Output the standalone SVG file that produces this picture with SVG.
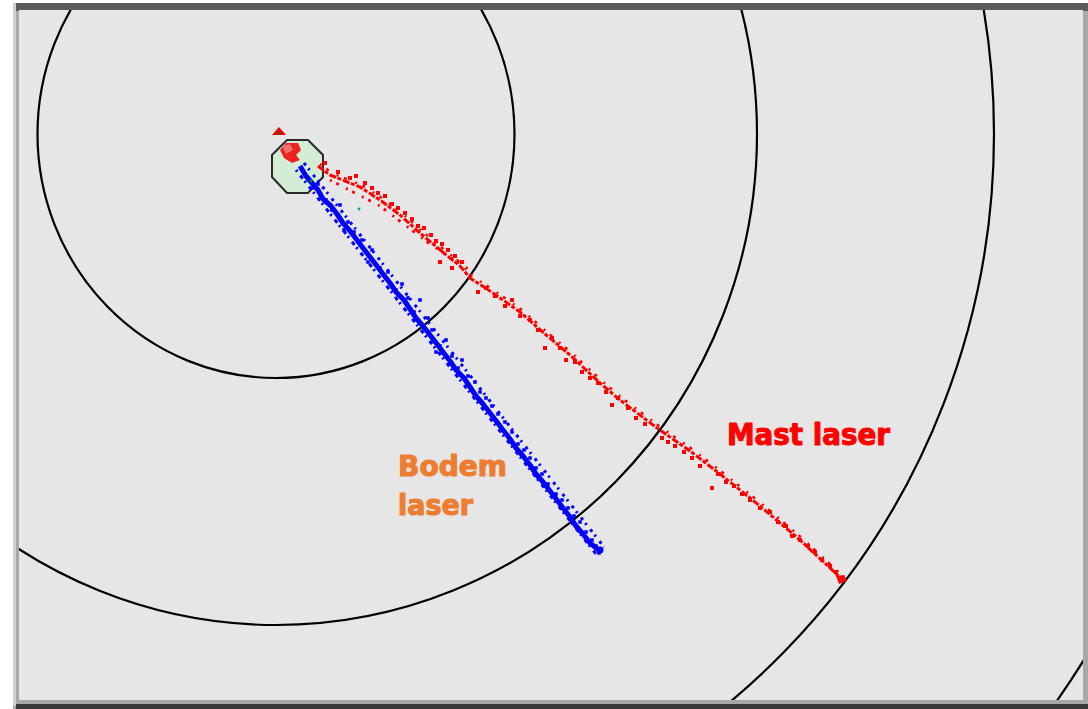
<svg xmlns="http://www.w3.org/2000/svg" width="1088" height="709" viewBox="0 0 1088 709">
<style>
.ring{fill:none;stroke:#000;stroke-width:2.2}
.lbl{font-family:"DejaVu Sans Condensed","DejaVu Sans",sans-serif;font-weight:bold;font-stretch:condensed;stroke-width:1;stroke-linejoin:round}
.bdot{fill:none;stroke:#0000ff;stroke-linecap:square;stroke-width:3.6}
.rdot{fill:none;stroke:#ff0000;stroke-linecap:square;stroke-width:4}
</style>
<defs>
<clipPath id="plot"><rect x="19" y="10" width="1064" height="690"/></clipPath>
</defs>
<rect width="1088" height="709" fill="#fff"/>
<g id="frame">
<rect x="13" y="3" width="1075" height="706" fill="#a8a8a8"/>
<rect x="13" y="3" width="3" height="703" fill="#cfcfcf"/>
<rect x="16" y="3" width="1072" height="8" fill="#5c5c5c"/>
<rect x="16" y="704" width="1072" height="5" fill="#3a3a3a"/>
<rect x="19" y="10" width="1064" height="690" fill="#e6e6e6"/>
</g>
<g id="rings" clip-path="url(#plot)">
<ellipse class="ring" cx="276" cy="134" rx="238.5" ry="244"/>
<ellipse class="ring" cx="276" cy="134" rx="481" ry="491"/>
<ellipse class="ring" cx="276" cy="134" rx="718" ry="733"/>
<ellipse class="ring" cx="276" cy="134" rx="958" ry="978"/>
</g>
<g id="robot">
<polygon points="287,140 308,140 323,155 323,177 308,193 287,193 272,177 272,155" fill="#d3ecd3" stroke="#2a2a2a" stroke-width="2"/>
<polygon points="286,143 298,143 301,150 296,155 300,160 292,163 284,158 280,150" fill="#ee2222"/>
<polygon points="282,146 290,144 293,150 286,154" fill="#f07070"/>
<polygon points="272,135 279,127 286,135" fill="#ee0000"/>
<circle cx="279" cy="133" r="1.3" fill="#008000"/>
</g>
<g id="connectors">
<g id="bodem-trace">
<polyline fill="none" stroke="#0000ff" stroke-width="5" stroke-linejoin="round" points="300,166 306,176 312,183 318,190 323,199 331,206 337,214 343,223 350,231 357,240 363,248 370,257 377,266 383,274 390,283 396,292 404,300 410,309 416,318 423,326 430,335 437,344 443,352 450,361 456,370 464,378 470,387 476,396 483,404 490,413 497,422 503,430 510,439 516,448 523,456 530,465 536,474 543,482 550,491 557,500 563,508 570,517 576,526 583,534 590,543 600,551"/>
<path fill="none" stroke="#0000ff" stroke-width="3" stroke-dasharray="3 4 2 6" d="M304,163 L604,547"/>
<path fill="none" stroke="#0000ff" stroke-width="3" stroke-dasharray="2 5 4 3" d="M296,170 L596,554"/>
<path class="bdot" d="M312,188h0M318,184h0M326,200h0M332,210h0M340,205h0M348,222h0M354,232h0M344,230h0M362,240h0M372,250h0M368,262h0M380,268h0M388,272h0M396,290h0M402,284h0M408,298h0M414,312h0M420,300h0M428,318h0M432,330h0M440,346h0M446,340h0M436,352h0M452,356h0M458,368h0M462,360h0M468,376h0M475,382h0M480,392h0M486,398h0M492,406h0M498,414h0M505,422h0M512,432h0M518,444h0M524,450h0M530,458h0M536,468h0M542,474h0M548,484h0M556,494h0M562,500h0M568,508h0M574,516h0M580,522h0M586,532h0M592,540h0M596,546h0M601,549h0M599,553h0"/>
<circle cx="600" cy="550" r="3.5" fill="#0000ff"/>
</g>
<g id="mast-trace">
<polyline fill="none" stroke="#ff0000" stroke-width="3" stroke-dasharray="7 1.5 4 2" stroke-linejoin="round" points="318,166 330,175 345,181 360,187 380,200 400,215 420,233 445,254 460,266 470,278 490,291 520,312 545,334 570,355 600,383 620,400 657,428 690,451 720,474 760,506 800,540 843,580"/>
<polyline fill="none" stroke="#ff0000" stroke-width="2.4" stroke-dasharray="2 6 3 9" points="320,164 332,173 347,179 362,185 382,198 402,213 422,231 447,252 462,264 472,276 492,289 522,310 547,332 572,353 602,381 622,398 659,426 692,449 722,472 762,504 802,538 844,577"/>
<path fill="none" stroke="#ff0000" stroke-width="2.8" stroke-dasharray="2 5 3 8" d="M330,180 L380,206 L430,244 L470,270"/>
<path class="rdot" d="M325,163h0M338,172h0M350,178h0M356,176h0M365,183h0M372,188h0M378,193h0M385,196h0M392,204h0M398,208h0M405,213h0M412,219h0M418,226h0M424,228h0M431,235h0M436,241h0M442,244h0M448,250h0M455,256h0M462,262h0M440,262h0M452,268h0M478,292h0M486,288h0M495,296h0M505,306h0M512,300h0M520,316h0M530,320h0M538,330h0M545,348h0M552,338h0M560,348h0M566,360h0M575,362h0M582,372h0M590,378h0M598,383h0M606,392h0M612,405h0M618,398h0M628,408h0M636,418h0M645,424h0M662,438h0M668,442h0M675,446h0M684,452h0M692,458h0M700,466h0M712,488h0M718,474h0M726,482h0M734,486h0M742,494h0M750,500h0M760,508h0M770,512h0M778,522h0M786,526h0M792,536h0M800,540h0M808,546h0M815,552h0M822,560h0M830,566h0M836,572h0"/>
<polygon points="836,576 844,575 847,581 839,584" fill="#ff0000"/>
<circle cx="311" cy="181" r="1.4" fill="#00a000"/>
<circle cx="359" cy="209" r="1.4" fill="#00a0a0"/>
</g>
</g>
<g id="labels">
<text class="lbl" x="727" y="445" font-size="31" fill="#ff0000" stroke="#ff0000" textLength="163" lengthAdjust="spacingAndGlyphs">Mast laser</text>
<text class="lbl" x="398" y="476" font-size="29" fill="#ed7d31" stroke="#ed7d31" textLength="109" lengthAdjust="spacingAndGlyphs">Bodem</text>
<text class="lbl" x="398" y="515" font-size="29" fill="#ed7d31" stroke="#ed7d31" textLength="75" lengthAdjust="spacingAndGlyphs">laser</text>
</g>
</svg>
